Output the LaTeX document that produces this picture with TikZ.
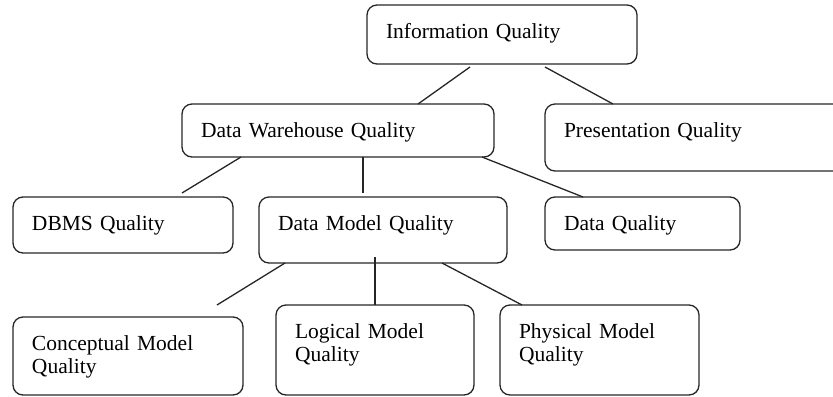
\documentclass[tikz,border=0pt]{standalone}
\usepackage{fontspec}
\setmainfont{Liberation Serif}
\usetikzlibrary{calc}

\begin{document}
\begin{tikzpicture}[x=.5pt,y=-.5pt,
  qbox/.style 2 args={draw=black!85,line width=.65pt,rounded corners=5pt,
    anchor=north west,outer sep=0pt,inner xsep=9.5pt,inner ysep=0pt,
    align=left,text width=#1,text height=16.5pt,text depth=#2,
    font=\fontsize{10.75pt}{11.5pt}\selectfont},
  link/.style={draw=black!85,line width=.65pt}]
  \useasboundingbox (0,0) rectangle (833,396);
  \clip (0,0) rectangle (833,396);
  % top level
  \node[qbox={116pt}{13pt}] (info) at (367,5) {Information Quality};
  \node[qbox={133.5pt}{17pt}] (pres) at (545,104) {Presentation Quality};
  \node[qbox={137pt}{10pt}] (dw) at (182,104) {Data Warehouse Quality};
  % second level
  \node[qbox={91pt}{11.5pt}] (dbms) at (13,197) {DBMS Quality};
  \node[qbox={105pt}{16.5pt}] (dm) at (259,197) {Data Model Quality};
  \node[qbox={78.5pt}{10pt}] (dq) at (545,197) {Data Quality};
  % model level
  \node[qbox={96pt}{22.5pt}] (conc) at (13,317) {Conceptual Model\\Quality};
  \node[qbox={80pt}{28.5pt}] (logm) at (276,305) {Logical Model\\Quality};
  \node[qbox={80.5pt}{28.5pt}] (phys) at (500,305) {Physical Model\\Quality};
  % connectors
  \draw[link] ($(info.south west)+(103,3)$) -- ($(dw.north west)+(236,0)$);
  \draw[link] ($(info.south west)+(178,3)$) -- ($(pres.north west)+(68,0)$);
  \draw[link] ($(dw.south west)+(59,0)$) -- ($(dbms.north west)+(169,-4)$);
  \draw[link] ($(dw.south west)+(181,0)$) -- ($(dm.north west)+(104,-4)$);
  \draw[link] ($(dw.south west)+(300,0)$) -- ($(dq.north west)+(38,0)$);
  \draw[link] ($(dm.south west)+(26,0)$) -- ($(conc.north west)+(204,-12)$);
  \draw[link] ($(dm.south west)+(116,-6)$) -- ($(logm.north west)+(99,0)$);
  \draw[link] ($(dm.south west)+(183,0)$) -- ($(phys.north west)+(22,0)$);
\end{tikzpicture}
\end{document}
